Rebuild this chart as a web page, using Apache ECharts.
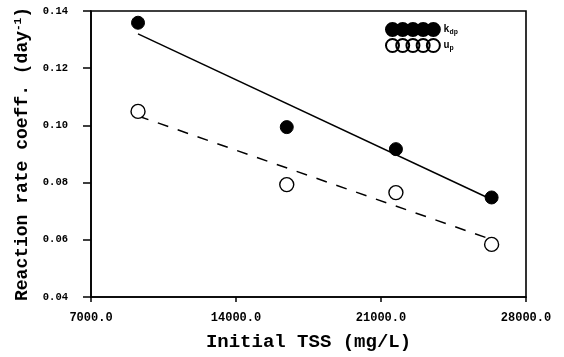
<!DOCTYPE html>
<html>
<head>
<meta charset="utf-8">
<script src="https://cdn.jsdelivr.net/npm/echarts@6/dist/echarts.min.js"></script>
<style>html,body{margin:0;padding:0;background:#fff}#c{width:564px;height:357px}</style>
</head>
<body>
<div id="c"></div>
<script>
// Data
const tss = [9270, 16450, 21720, 26340];
const kdp = [0.1359, 0.0994, 0.0917, 0.0748];
const up = [0.1049, 0.0793, 0.0765, 0.0584];
// fitted lines (endpoints)
const kdpFitX = [9270, 26340];
const kdpFitY = [0.1320, 0.0741];
const upFitX = [9270, 26340];
const upFitY = [0.1033, 0.0601];
const xTicks = [7000, 14000, 21000, 28000];
const yTicks = [0.04, 0.06, 0.08, 0.10, 0.12, 0.14];

const pairs = (xs, ys) => xs.map((x, i) => [x, ys[i]]);
const circles = 'path://M0,7a7,7 0 1,0 14,0a7,7 0 1,0 -14,0Z M11,7a7,7 0 1,0 14,0a7,7 0 1,0 -14,0Z M22,7a7,7 0 1,0 14,0a7,7 0 1,0 -14,0Z M33,7a7,7 0 1,0 14,0a7,7 0 1,0 -14,0Z M44,7a7,7 0 1,0 14,0a7,7 0 1,0 -14,0Z';
const mono = '"Liberation Mono", "DejaVu Sans Mono", monospace';

const chart = echarts.init(document.getElementById('c'));
chart.setOption({
  animation: false,
  backgroundColor: '#fff',
  grid: { left: 91, right: 38, top: 11, bottom: 54, show: true, borderColor: '#000', borderWidth: 1.6 },
  legend: {
    orient: 'vertical', left: 380, top: 17, itemGap: 1, itemWidth: 57, itemHeight: 13,
    selectedMode: false,
    data: [{ name: 'kdp', icon: circles }, { name: 'up', icon: circles }],
    formatter: n => n === 'kdp' ? '{m|k}{s|dp}' : '{m|u}{s|p}',
    textStyle: {
      padding: [0, 0, 0, -3],
      rich: {
        m: { fontFamily: mono, fontWeight: 'bold', fontSize: 10, color: '#000' },
        s: { fontFamily: mono, fontWeight: 'bold', fontSize: 7, color: '#000', verticalAlign: 'bottom', padding: [5, 0, 0, 0] }
      }
    }
  },
  xAxis: {
    type: 'value', min: xTicks[0], max: xTicks[xTicks.length - 1], interval: 7000,
    name: 'Initial TSS (mg/L)', nameLocation: 'middle', nameGap: 36,
    nameTextStyle: { fontFamily: mono, fontWeight: 'bold', fontSize: 19, color: '#000' },
    axisLine: { lineStyle: { color: '#000', width: 1.6 } },
    axisTick: { show: true, length: 5, lineStyle: { color: '#000', width: 1.5 } },
    axisLabel: { fontFamily: mono, fontWeight: 'bold', fontSize: 12, color: '#000', margin: 15, formatter: v => v.toFixed(1) },
    splitLine: { show: false }
  },
  yAxis: {
    type: 'value', min: yTicks[0], max: yTicks[yTicks.length - 1], interval: 0.02,
    name: '{n|Reaction rate coeff. (day}{sup|-1}{n|)}', nameLocation: 'middle', nameGap: 58,
    nameTextStyle: {
      rich: {
        n: { fontFamily: mono, fontWeight: 'bold', fontSize: 18, color: '#000' },
        sup: { fontFamily: mono, fontWeight: 'bold', fontSize: 11, color: '#000', verticalAlign: 'top', padding: [0, 0, 9, 0] }
      }
    },
    axisLine: { lineStyle: { color: '#000', width: 1.6 } },
    axisTick: { show: true, length: 8, lineStyle: { color: '#000', width: 1.5 } },
    axisLabel: { fontFamily: mono, fontWeight: 'bold', fontSize: 10.5, color: '#000', margin: 23, formatter: v => v.toFixed(2) },
    splitLine: { show: false }
  },
  series: [
    {
      name: 'kdp', type: 'scatter', data: pairs(tss, kdp), symbol: 'circle', symbolSize: 13,
      itemStyle: { color: '#000', borderColor: '#000', borderWidth: 1, opacity: 1 }, z: 5
    },
    {
      name: 'up', type: 'scatter', data: pairs(tss, up), symbol: 'circle', symbolSize: 14,
      itemStyle: { color: '#fff', borderColor: '#000', borderWidth: 1.4, opacity: 1 }, z: 5
    },
    {
      name: 'kdpFit', type: 'line', data: pairs(kdpFitX, kdpFitY), symbol: 'none',
      lineStyle: { color: '#000', width: 1.5, type: 'solid' }, z: 3
    },
    {
      name: 'upFit', type: 'line', data: pairs(upFitX, upFitY), symbol: 'none',
      lineStyle: { color: '#000', width: 1.5, type: [11, 10] }, z: 3
    }
  ]
});
</script>
</body>
</html>
